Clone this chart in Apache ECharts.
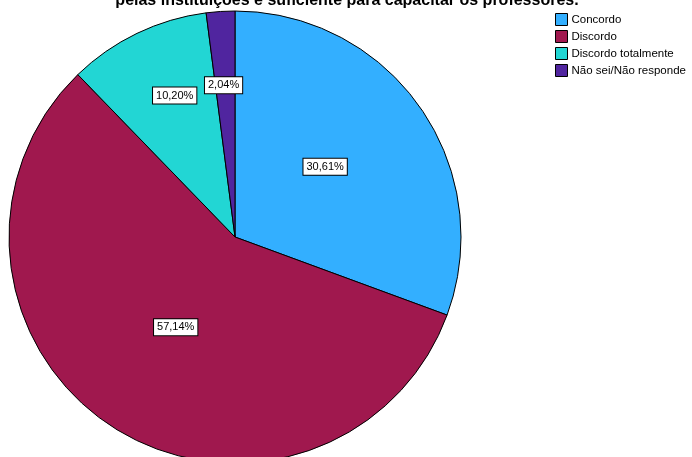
<!DOCTYPE html>
<html>
<head>
<meta charset="utf-8">
<script src="https://cdn.jsdelivr.net/npm/echarts@6/dist/echarts.min.js"></script>
<style>
html,body{margin:0;padding:0;background:#fff;}
#chart{width:692px;height:457px;}
</style>
</head>
<body>
<div id="chart"></div>
<script>
// categorias e percentuais
var categorias = ['Concordo', 'Discordo', 'Discordo totalmente', 'Não sei/Não responde'];
var percentuais = [30.61, 57.14, 10.20, 2.04];
var cores = ['#33AFFF', '#A0184E', '#22D6D4', '#50259F'];
// deslocamento dos rótulos das fatias pequenas
var deslocamentos = [[-5, -4], [4, -7], [-10, -37], [-4, -36]];

var chart = echarts.init(document.getElementById('chart'));

var dados = [];
for (var i = 0; i < categorias.length; i++) {
	dados.push({
		name: categorias[i],
		value: percentuais[i],
		itemStyle: { color: cores[i] },
		label: { offset: deslocamentos[i] }
	});
}

var option = {
	animation: false,
	title: {
		text: 'pelas instituições é suficiente para capacitar os professores.',
		left: 342,
		textAlign: 'center',
		top: -12,
		textStyle: {
			fontFamily: 'Liberation Sans, Arial',
			fontSize: 16,
			fontWeight: 'bold',
			color: '#000'
		}
	},
	legend: {
		orient: 'vertical',
		left: 550,
		top: 8,
		itemWidth: 12,
		itemHeight: 12,
		itemGap: 4,
		icon: 'rect',
		data: categorias,
		itemStyle: { borderColor: '#000', borderWidth: 1 },
		textStyle: {
			fontFamily: 'Liberation Sans, Arial',
			fontSize: 11.5,
			color: '#000',
			padding: [0, 0, 0, -1]
		}
	},
	series: [{
		type: 'pie',
		center: [235, 237],
		radius: [0, 226],
		startAngle: 90,
		clockwise: true,
		avoidLabelOverlap: false,
		itemStyle: { borderColor: '#000', borderWidth: 1 },
		label: {
			show: true,
			position: 'inside',
			formatter: function (p) {
				return p.value.toFixed(2).replace('.', ',') + '%';
			},
			fontFamily: 'Liberation Sans, Arial',
			fontSize: 11,
			color: '#000',
			backgroundColor: '#fff',
			borderColor: '#000',
			borderWidth: 1,
			padding: [3, 3, 2, 3]
		},
		labelLine: { show: false },
		emphasis: { disabled: true },
		data: dados
	}]
};

chart.setOption(option);
</script>
</body>
</html>
